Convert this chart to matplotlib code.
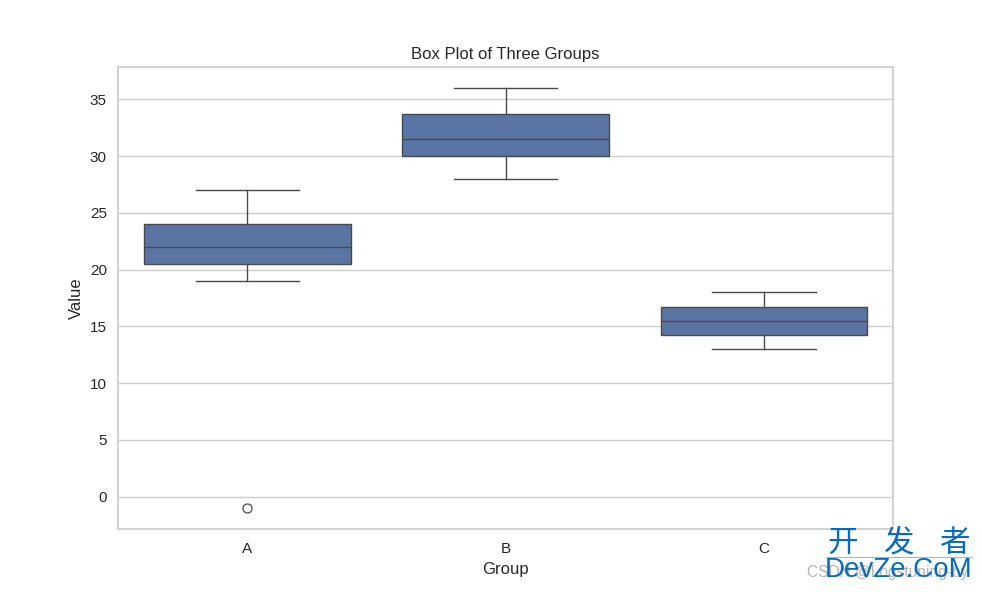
import matplotlib.pyplot as plt

# Values of the three groups
group_a = [-1, 19, 20.5, 21, 22, 23, 24, 25, 27]
group_b = [28, 29, 30, 31, 31.5, 32, 33.7, 35, 36]
group_c = [13, 14, 14.25, 15, 15.5, 16, 16.75, 17, 18]

line_color = '#4a4a4a'
grid_color = '#cccccc'
text_color = '#262626'

plt.rcParams['font.family'] = ['Liberation Sans', 'Noto Sans CJK SC']

# Plotting the results
plt.figure(figsize=(9.82, 5.92), dpi=100)
plt.subplots_adjust(left=118 / 982, right=893 / 982, top=1 - 67 / 592, bottom=1 - 529 / 592)
plt.boxplot([group_a, group_b, group_c], widths=0.8, patch_artist=True, tick_labels=['A', 'B', 'C'],
            boxprops=dict(facecolor='#5875a4', edgecolor=line_color, linewidth=1.0),
            medianprops=dict(color=line_color, linewidth=1.0),
            whiskerprops=dict(color=line_color, linewidth=1.0),
            capprops=dict(color=line_color, linewidth=1.0),
            capwidths=0.4,
            flierprops=dict(marker='o', markerfacecolor='none', markeredgecolor=line_color, markersize=6.5, markeredgewidth=0.9))
plt.xlabel('Group', fontsize=12, color=text_color, labelpad=4)
plt.ylabel('Value', fontsize=12, color=text_color, labelpad=4)
plt.title('Box Plot of Three Groups', fontsize=12, color=text_color, pad=6)
plt.tick_params(length=0, labelsize=11, labelcolor=text_color, pad=8)
plt.tick_params(axis='x', pad=9.5)
plt.grid(True, axis='y', color=grid_color, linewidth=1.0)
plt.gca().set_axisbelow(True)
for spine in plt.gca().spines.values():
    spine.set_color(grid_color)
    spine.set_linewidth(1.25)

# Watermark in the lower right corner
plt.figtext(888 / 982, 1 - 573 / 592, 'CSDN @Logstuning-by', fontsize=11.2, color='#b4b4b4', ha='center', va='center')
plt.figtext(899 / 982, 1 - 543 / 592, '开   发   者', fontsize=22, color='#0a6ab8', ha='center', va='center')
plt.figtext(899 / 982, 1 - 570 / 592, 'DevZe.CoM', fontsize=20, color='#0a6ab8', ha='center', va='center')
plt.gcf().add_artist(plt.Line2D([826 / 982, 972 / 982], [1 - 557 / 592, 1 - 557 / 592], color='#7ec4ea', linewidth=0.8))

plt.savefig('out.png', dpi=100)
